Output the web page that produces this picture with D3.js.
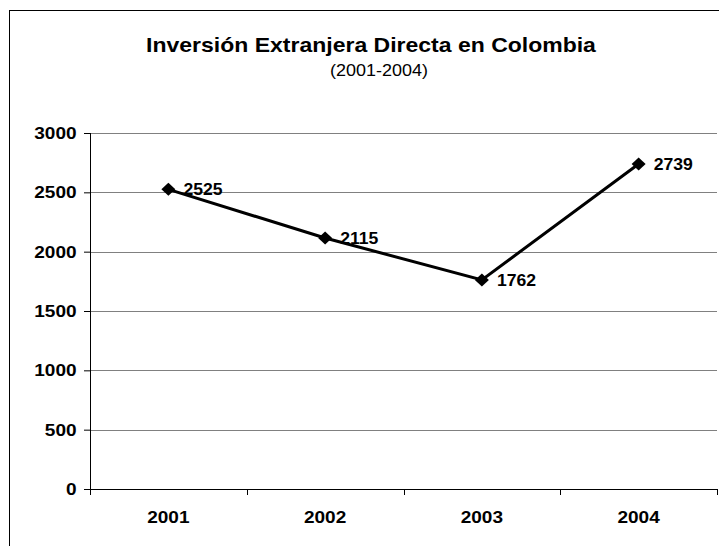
<!DOCTYPE html>
<style>
body { margin: 0; background: #fff; }
text { font-family: "Liberation Sans", Arial, sans-serif; }
.axis .domain { display: none; }
</style>
<svg width="719" height="546"></svg>
<script src="https://d3js.org/d3.v7.min.js"></script>
<script>

var years = ["2001", "2002", "2003", "2004"];
var values = [2525, 2115, 1762, 2739];
var yTicks = [0, 500, 1000, 1500, 2000, 2500, 3000];

var svg = d3.select("svg"),
    margin = {top: 133, right: 2, bottom: 57, left: 90},
    width = +svg.attr("width") - margin.left - margin.right,
    height = +svg.attr("height") - margin.top - margin.bottom,
    g = svg.append("g").attr("transform", "translate(" + margin.left + "," + margin.top + ")");

// text in the source picture is a bit wider than plain Arial
var stretch = 1.12;

// chart frame (runs off the right and bottom edge)
svg.append("rect")
    .attr("x", 9.5).attr("y", 10.5)
    .attr("width", 760).attr("height", 600)
    .attr("fill", "none").attr("stroke", "#000").attr("stroke-width", 1);

svg.append("text")
    .attr("transform", "translate(371,52) scale(1.15,1)")
    .attr("text-anchor", "middle")
    .attr("font-size", 20).attr("font-weight", "bold")
    .text("Inversión Extranjera Directa en Colombia");

svg.append("text")
    .attr("transform", "translate(379,76) scale(1.09,1)")
    .attr("text-anchor", "middle")
    .attr("font-size", 16.5)
    .text("(2001-2004)");

var x = d3.scaleBand().domain(years).range([0, width]);
var y = d3.scaleLinear().domain([0, 3000]).range([height, 0]);

// grid
g.append("g")
  .selectAll("line")
  .data(yTicks.filter(function(d) { return d > 0; }))
  .enter().append("line")
    .attr("x1", 0).attr("x2", width)
    .attr("y1", function(d) { return Math.round(y(d)) + 0.5; })
    .attr("y2", function(d) { return Math.round(y(d)) + 0.5; })
    .attr("stroke", "#808080");

// y axis
var ya = g.append("g")
    .attr("class", "axis")
    .call(d3.axisLeft(y).tickValues(yTicks).tickFormat(d3.format("d")).tickSize(6).tickPadding(6));
ya.selectAll("text")
    .attr("font-size", 17).attr("font-weight", "bold").attr("fill", "#000")
    .attr("font-family", "Liberation Sans, Arial, sans-serif")
    .attr("transform", "scale(" + stretch + ",1)");
ya.selectAll("line").attr("stroke", "#000");
g.append("line").attr("x1", 0.5).attr("x2", 0.5).attr("y1", 0).attr("y2", height).attr("stroke", "#000");

// x axis
var xa = g.append("g")
    .attr("class", "axis")
    .attr("transform", "translate(0," + height + ")")
    .call(d3.axisBottom(x).tickSize(0).tickPadding(22));
xa.selectAll("text")
    .attr("font-size", 17).attr("font-weight", "bold").attr("fill", "#000")
    .attr("font-family", "Liberation Sans, Arial, sans-serif")
    .attr("transform", "scale(" + stretch + ",1)");
g.append("line").attr("x1", 0).attr("x2", width).attr("y1", height + 0.5).attr("y2", height + 0.5).attr("stroke", "#000");
g.append("g")
  .selectAll("line")
  .data(years.concat(["end"]))
  .enter().append("line")
    .attr("x1", function(d, i) { return Math.round(i * x.step()) + 0.5; })
    .attr("x2", function(d, i) { return Math.round(i * x.step()) + 0.5; })
    .attr("y1", height).attr("y2", height + 6)
    .attr("stroke", "#000");

var pts = years.map(function(d, i) { return {year: d, value: values[i]}; });
var cx = function(d) { return x(d.year) + x.bandwidth() / 2; };

g.append("path")
    .datum(pts)
    .attr("fill", "none")
    .attr("stroke", "#000")
    .attr("stroke-width", 3)
    .attr("d", d3.line().x(cx).y(function(d) { return y(d.value); }));

g.selectAll(".mark")
  .data(pts)
  .enter().append("path")
    .attr("class", "mark")
    .attr("transform", function(d) { return "translate(" + cx(d) + "," + y(d.value) + ")"; })
    .attr("d", "M0,-6.5L7,0L0,6.5L-7,0Z")
    .attr("fill", "#000");

g.selectAll(".lbl")
  .data(pts)
  .enter().append("text")
    .attr("class", "lbl")
    .attr("transform", function(d) { return "translate(" + (cx(d) + 15) + "," + y(d.value) + ") scale(1.1,1)"; })
    .attr("dy", "0.35em")
    .attr("font-size", 16).attr("font-weight", "bold")
    .text(function(d) { return d.value; });

</script>
